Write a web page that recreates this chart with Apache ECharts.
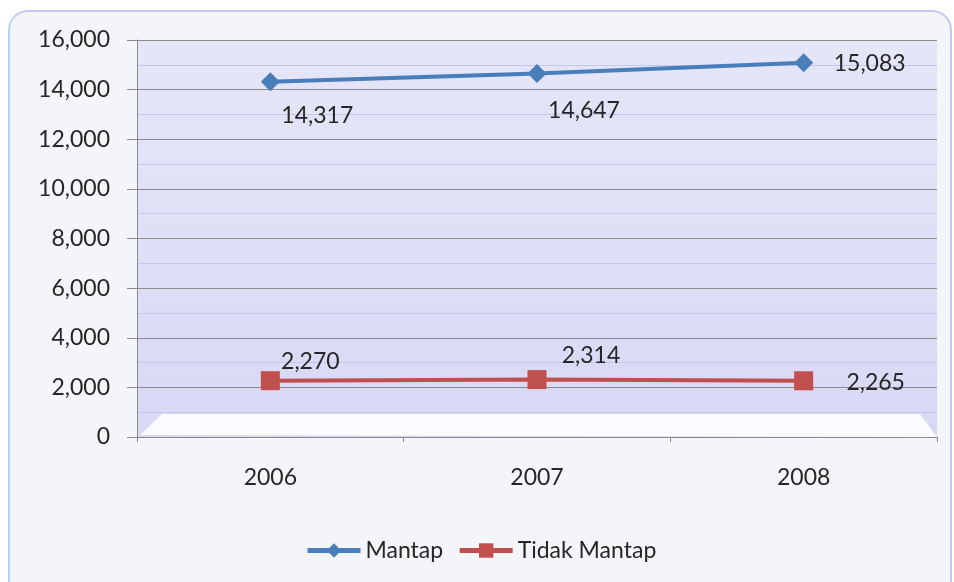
<!DOCTYPE html>
<html>
<head>
<meta charset="utf-8">
<script src="https://cdn.jsdelivr.net/npm/echarts@6/dist/echarts.min.js"></script>
<style>
  html, body { margin: 0; padding: 0; background: #ffffff; }
  #frame {
    position: absolute; left: 8px; top: 10px; width: 940px; height: 600px;
    border: 2px solid #c4c6f2; border-left-color: #b8d4f4; border-radius: 20px; background: #f4f5f8;
  }
  #chart { position: absolute; left: 0; top: 0; width: 954px; height: 582px; }
</style>
</head>
<body>
<div id="frame"></div>
<div id="chart"></div>
<script>
// data
var years = ['2006', '2007', '2008'];
var mantap = [14317, 14647, 15083];
var tidakMantap = [2270, 2314, 2265];

// label offsets (px) as placed in the original
var mantapLabelOff = [[47, 34], [47, 37], [66, 1]];
var tidakLabelOff = [[40, -19], [54, -24], [72, 2]];

function withLabels(values, offs) {
    var out = [];
    for (var i = 0; i < values.length; i++) {
        out.push({ value: values[i], label: { offset: offs[i] } });
    }
    return out;
}

var fontFam = 'Lato, "Open Sans", sans-serif';
var fs = 23;

var chart = echarts.init(document.getElementById('chart'), null, { renderer: 'canvas' });
chart.setOption({
    backgroundColor: 'transparent',
    animation: false,
    textStyle: { fontFamily: fontFam },
    grid: {
        left: 137, right: 17, top: 40, bottom: 145,
        show: true,
        borderWidth: 0,
        backgroundColor: {
            type: 'linear', x: 0, y: 0, x2: 0, y2: 1,
            colorStops: [
                { offset: 0, color: '#e6e6f9' },
                { offset: 1, color: '#d8d8f5' }
            ]
        }
    },
    legend: {
        data: ['Mantap', 'Tidak Mantap'],
        left: 300, top: 534,
        itemWidth: 53, itemHeight: 18, itemGap: 14,
        lineStyle: { width: 5 },
        textStyle: { fontSize: fs, color: '#262626', fontFamily: fontFam }
    },
    graphic: [{
        type: 'polygon',
        silent: true,
        shape: { points: [[140, 435], [162, 414], [920, 414], [937, 437]] },
        style: { fill: '#fbfbff' },
        z: 0
    }],
    xAxis: {
        type: 'category',
        data: years,
        boundaryGap: true,
        axisLine: { lineStyle: { color: '#8a8a8a', width: 1 } },
        axisTick: { show: true, length: 5, lineStyle: { color: '#8a8a8a' } },
        axisLabel: { margin: 29, fontSize: fs, color: '#262626', fontFamily: fontFam }
    },
    yAxis: {
        type: 'value',
        min: 0, max: 16000, interval: 2000,
        axisLine: { show: true, lineStyle: { color: '#8a8a8a', width: 1 } },
        axisTick: { show: true, length: 10, lineStyle: { color: '#8a8a8a' } },
        axisLabel: {
            margin: 27, fontSize: fs, color: '#262626', fontFamily: fontFam,
            formatter: function (v) { return v.toLocaleString('en-US'); }
        },
        splitLine: { show: true, lineStyle: { color: '#8c8c8c', width: 1 } },
        minorTick: { show: false, splitNumber: 2 },
        minorSplitLine: { show: true, lineStyle: { color: '#c6c6ef', width: 1 } }
    },
    series: [
        {
            name: 'Mantap',
            type: 'line',
            data: withLabels(mantap, mantapLabelOff),
            symbol: 'diamond',
            symbolSize: 19,
            color: '#4a7ebb',
            lineStyle: { width: 4, color: '#4a7ebb' },
            itemStyle: { color: '#4a7ebb' },
            label: {
                show: true, position: 'inside', fontSize: fs, color: '#262626',
                fontFamily: fontFam,
                formatter: function (p) { return p.value.toLocaleString('en-US'); }
            },
            z: 5
        },
        {
            name: 'Tidak Mantap',
            type: 'line',
            data: withLabels(tidakMantap, tidakLabelOff),
            symbol: 'rect',
            symbolSize: 19,
            color: '#c0504d',
            lineStyle: { width: 4, color: '#c0504d' },
            itemStyle: { color: '#c0504d' },
            label: {
                show: true, position: 'inside', fontSize: fs, color: '#262626',
                fontFamily: fontFam,
                formatter: function (p) { return p.value.toLocaleString('en-US'); }
            },
            z: 5
        }
    ]
});
</script>
</body>
</html>
